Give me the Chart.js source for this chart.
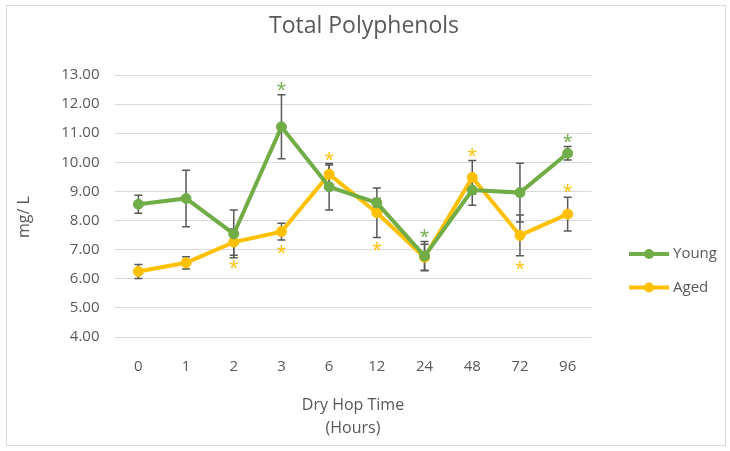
<!DOCTYPE html>
<html>
<head>
<meta charset="utf-8">
<script src="https://cdn.jsdelivr.net/npm/chart.js@4.4.0/dist/chart.umd.min.js"></script>
<style>
  html, body { margin: 0; padding: 0; background: #fff; }
  #wrap { width: 730px; height: 451px; }
</style>
</head>
<body>
<div id="wrap"><canvas id="myChart" width="730" height="451"></canvas></div>
<script>
const hours = ['0', '1', '2', '3', '6', '12', '24', '48', '72', '96'];
const young = [8.56, 8.76, 7.54, 11.22, 9.16, 8.61, 6.78, 9.05, 8.96, 10.31];
const youngErr = [0.31, 0.97, 0.82, 1.10, 0.80, 0.15, 0.50, 0.52, 1.01, 0.23];
const aged = [6.25, 6.55, 7.26, 7.62, 9.59, 8.27, 6.74, 9.48, 7.49, 8.22];
const agedErr = [0.24, 0.21, 0.45, 0.29, 0.32, 0.85, 0.45, 0.58, 0.70, 0.58];
// significance markers: where the asterisk sits relative to the error bar
const youngSig = [null, null, null, 'above', null, null, 'above', null, null, 'above'];
const agedSig = [null, null, 'below', 'below', 'above', 'below', null, 'above', 'below', 'above'];
const yTicks = [4, 5, 6, 7, 8, 9, 10, 11, 12, 13];

const GREEN = '#70AD47';
const GOLD = '#FFC000';
const TEXT = '#595959';
const FONT = "'Open Sans', sans-serif";

const errSets = [youngErr, agedErr];
const sigSets = [youngSig, agedSig];

// white background, outer border, chart title and the y axis title
const frame = {
  id: 'frame',
  beforeDraw(chart) {
    const ctx = chart.ctx;
    ctx.save();
    ctx.fillStyle = '#fff';
    ctx.fillRect(0, 0, chart.width, chart.height);
    ctx.strokeStyle = '#D9D9D9';
    ctx.lineWidth = 1;
    ctx.strokeRect(6.5, 5.5, 719, 440);

    ctx.fillStyle = TEXT;
    ctx.textAlign = 'center';
    ctx.textBaseline = 'alphabetic';
    ctx.font = '23px ' + FONT;
    ctx.fillText('Total Polyphenols', 364, 33);

    ctx.translate(24, 217);
    ctx.rotate(-Math.PI / 2);
    ctx.textBaseline = 'middle';
    ctx.font = '16px ' + FONT;
    ctx.fillText('mg/ L', 0, 0);
    ctx.restore();
  }
};

const errorBars = {
  id: 'errorBars',
  beforeDatasetsDraw(chart) {
    const ctx = chart.ctx;
    const y = chart.scales.y;
    ctx.save();
    ctx.strokeStyle = '#595959';
    ctx.lineWidth = 1.5;
    chart.data.datasets.forEach((ds, i) => {
      chart.getDatasetMeta(i).data.forEach((pt, j) => {
        const v = ds.data[j], e = errSets[i][j];
        const top = y.getPixelForValue(v + e), bot = y.getPixelForValue(v - e);
        ctx.beginPath();
        ctx.moveTo(pt.x, top); ctx.lineTo(pt.x, bot);
        ctx.moveTo(pt.x - 4, top); ctx.lineTo(pt.x + 4, top);
        ctx.moveTo(pt.x - 4, bot); ctx.lineTo(pt.x + 4, bot);
        ctx.stroke();
      });
    });
    ctx.restore();
  },
  afterDatasetsDraw(chart) {
    const ctx = chart.ctx;
    const y = chart.scales.y;
    ctx.save();
    ctx.font = '18px ' + FONT;
    ctx.textAlign = 'center';
    ctx.textBaseline = 'alphabetic';
    chart.data.datasets.forEach((ds, i) => {
      ctx.fillStyle = ds.borderColor;
      chart.getDatasetMeta(i).data.forEach((pt, j) => {
        const s = sigSets[i][j];
        if (!s) return;
        const v = ds.data[j], e = errSets[i][j];
        const cy = s === 'above' ? y.getPixelForValue(v + e) - 9 : y.getPixelForValue(v - e) + 9;
        ctx.fillText('*', pt.x, cy + 10);
      });
    });
    ctx.restore();
  }
};

const sideLegend = {
  id: 'sideLegend',
  afterDraw(chart) {
    const ctx = chart.ctx;
    ctx.save();
    ctx.font = '15px ' + FONT;
    ctx.textBaseline = 'middle';
    chart.data.datasets.forEach((ds, i) => {
      const ly = 254 + i * 33.5;
      ctx.strokeStyle = ds.borderColor;
      ctx.lineWidth = 4;
      ctx.beginPath();
      ctx.moveTo(629, ly); ctx.lineTo(669, ly);
      ctx.stroke();
      ctx.fillStyle = ds.borderColor;
      ctx.beginPath();
      ctx.arc(649, ly, 5, 0, Math.PI * 2);
      ctx.fill();
      ctx.fillStyle = TEXT;
      ctx.fillText(ds.label, 673, ly);
    });
    ctx.restore();
  }
};

const ctx = document.getElementById('myChart').getContext('2d');
new Chart(ctx, {
  type: 'line',
  data: {
    labels: hours,
    datasets: [
      { label: 'Young', data: young, borderColor: GREEN, backgroundColor: GREEN, borderWidth: 4, pointRadius: 5, pointBorderWidth: 1, pointHoverRadius: 5 },
      { label: 'Aged', data: aged, borderColor: GOLD, backgroundColor: GOLD, borderWidth: 4, pointRadius: 5, pointBorderWidth: 1, pointHoverRadius: 5 }
    ]
  },
  options: {
    responsive: false,
    animation: false,
    events: [],
    layout: { padding: { left: 0, right: 138.5, top: 75, bottom: 11.5 } },
    plugins: {
      legend: { display: false },
      tooltip: { enabled: false },
      title: { display: false }
    },
    scales: {
      x: {
        offset: true,
        grid: { display: false },
        border: { display: false },
        ticks: { color: TEXT, font: { family: FONT, size: 15 }, padding: 13, maxRotation: 0 },
        title: {
          display: true,
          text: ['Dry Hop Time', '(Hours)'],
          color: TEXT,
          font: { family: FONT, size: 16, lineHeight: 1.44 },
          padding: { top: 0, bottom: 0 }
        },
        afterFit(scale) { scale.height = 102.5; }
      },
      y: {
        min: 4,
        max: 13,
        afterBuildTicks(scale) { scale.ticks = yTicks.map(v => ({ value: v })); },
        grid: { color: '#D9D9D9', lineWidth: 1, drawTicks: false },
        border: { display: false },
        ticks: { color: TEXT, font: { family: FONT, size: 15 }, padding: 15, callback: v => v.toFixed(2) },
        afterFit(scale) { scale.width = 114.5; }
      }
    }
  },
  plugins: [frame, errorBars, sideLegend]
});
</script>
</body>
</html>
